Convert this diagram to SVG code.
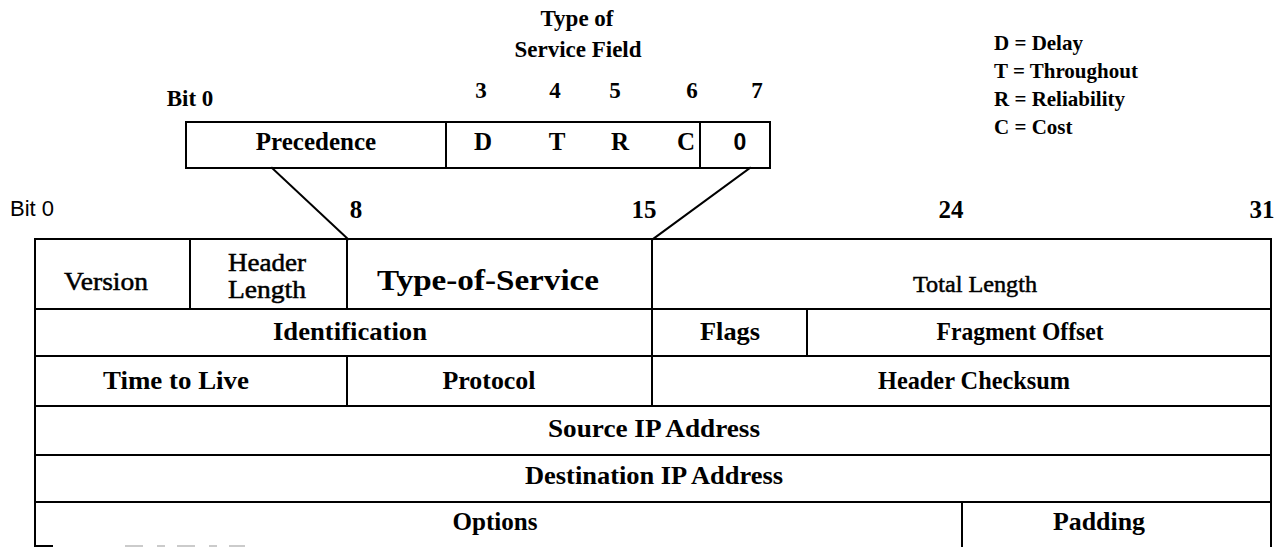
<svg xmlns="http://www.w3.org/2000/svg" width="1279" height="547" viewBox="0 0 1279 547">
  <style>
    .ln { stroke: #000; stroke-width: 2; fill: none; stroke-linecap: square; }
    .t { font-family: "Liberation Serif", "Times New Roman", serif; font-size: 25px; fill: #000; text-anchor: middle; }
    .b { font-weight: bold; }
    .r { stroke: #000; stroke-width: 0.5; }
    .s { font-family: "Liberation Sans", Arial, sans-serif; }
    .lg { font-family: "Liberation Serif", "Times New Roman", serif; font-size: 21px; font-weight: bold; fill: #000; }
  </style>
  <rect width="1279" height="547" fill="#fff"/>

  <!-- Type of Service field detail -->
  <g id="tos-title">
    <text class="t b" x="577" y="26" style="font-size:23px">Type of</text>
    <text class="t b" x="578" y="57" style="font-size:23px">Service Field</text>
  </g>
  <g id="tos-bits">
    <text class="t b" x="190" y="106" style="font-size:23px">Bit 0</text>
    <text class="t b" x="481" y="98" style="font-size:23px">3</text>
    <text class="t b" x="555" y="98" style="font-size:23px">4</text>
    <text class="t b" x="615" y="98" style="font-size:23px">5</text>
    <text class="t b" x="692" y="98" style="font-size:23px">6</text>
    <text class="t b" x="757" y="98" style="font-size:23px">7</text>
  </g>
  <g id="tos-box">
    <rect class="ln" x="186" y="122" width="584" height="46"/>
    <line class="ln" x1="446" y1="122" x2="446" y2="168"/>
    <line class="ln" x1="700" y1="122" x2="700" y2="168"/>
    <text class="t b" x="316" y="150">Precedence</text>
    <text class="t b" x="483" y="150">D</text>
    <text class="t b" x="557" y="150">T</text>
    <text class="t b" x="620" y="150">R</text>
    <text class="t b" x="686" y="150">C</text>
    <text class="t b s" x="740" y="150" style="font-size:23px">0</text>
  </g>
  <g id="legend">
    <text class="lg" x="994" y="50">D = Delay</text>
    <text class="lg" x="994" y="78">T = Throughout</text>
    <text class="lg" x="994" y="106">R = Reliability</text>
    <text class="lg" x="994" y="134">C = Cost</text>
  </g>

  <!-- bit positions of the header word -->
  <g id="word-bits">
    <text class="t s" x="32" y="216" style="font-size:22px">Bit 0</text>
    <text class="t b" x="356" y="218">8</text>
    <text class="t b" x="644" y="218">15</text>
    <text class="t b" x="951" y="218">24</text>
    <text class="t b" x="1262" y="218">31</text>
  </g>

  <g id="connectors">
    <line class="ln" x1="272" y1="168" x2="348" y2="239"/>
    <line class="ln" x1="750" y1="168" x2="653" y2="239"/>
  </g>

  <!-- IP header grid -->
  <g id="header-frame">
    <polyline class="ln" points="35,547 35,239 1271,239 1271,547"/>
    <line class="ln" x1="35" y1="309" x2="1271" y2="309"/>
    <line class="ln" x1="35" y1="356" x2="1271" y2="356"/>
    <line class="ln" x1="35" y1="406" x2="1271" y2="406"/>
    <line class="ln" x1="35" y1="455" x2="1271" y2="455"/>
    <line class="ln" x1="35" y1="502" x2="1271" y2="502"/>
    <line class="ln" x1="35" y1="546" x2="52" y2="546"/>
    <line x1="125" y1="546" x2="245" y2="546" stroke="#bbb" stroke-width="1.5" stroke-dasharray="18 14 8 12"/>
  </g>

  <g id="version">
    <line class="ln" x1="190" y1="239" x2="190" y2="309"/>
    <text class="t r" x="106" y="290" textLength="84" lengthAdjust="spacingAndGlyphs">Version</text>
  </g>
  <g id="header-length">
    <line class="ln" x1="347" y1="239" x2="347" y2="309"/>
    <text class="t r" x="267" y="271" textLength="78" lengthAdjust="spacingAndGlyphs">Header</text>
    <text class="t r" x="267" y="298" textLength="78" lengthAdjust="spacingAndGlyphs">Length</text>
  </g>
  <g id="type-of-service">
    <line class="ln" x1="652" y1="239" x2="652" y2="309"/>
    <text class="t b" x="488" y="290" style="font-size:30px" textLength="222" lengthAdjust="spacingAndGlyphs">Type-of-Service</text>
  </g>
  <g id="total-length">
    <text class="t r" x="975" y="292" style="font-size:24px" textLength="124" lengthAdjust="spacingAndGlyphs">Total  Length</text>
  </g>
  <g id="identification">
    <text class="t b" x="350" y="340" textLength="154" lengthAdjust="spacingAndGlyphs">Identification</text>
  </g>
  <g id="flags">
    <line class="ln" x1="652" y1="309" x2="652" y2="356"/>
    <line class="ln" x1="807" y1="309" x2="807" y2="356"/>
    <text class="t b" x="730" y="340" textLength="60" lengthAdjust="spacingAndGlyphs">Flags</text>
  </g>
  <g id="fragment-offset">
    <text class="t b" x="1020" y="340" textLength="167" lengthAdjust="spacingAndGlyphs">Fragment Offset</text>
  </g>
  <g id="time-to-live">
    <line class="ln" x1="347" y1="356" x2="347" y2="406"/>
    <text class="t b" x="176" y="389" textLength="146" lengthAdjust="spacingAndGlyphs">Time to Live</text>
  </g>
  <g id="protocol">
    <line class="ln" x1="652" y1="356" x2="652" y2="406"/>
    <text class="t b" x="489" y="389" textLength="93" lengthAdjust="spacingAndGlyphs">Protocol</text>
  </g>
  <g id="header-checksum">
    <text class="t b" x="974" y="389" textLength="192" lengthAdjust="spacingAndGlyphs">Header Checksum</text>
  </g>
  <g id="source-ip">
    <text class="t b" x="654" y="437" textLength="212" lengthAdjust="spacingAndGlyphs">Source IP Address</text>
  </g>
  <g id="destination-ip">
    <text class="t b" x="654" y="484" textLength="258" lengthAdjust="spacingAndGlyphs">Destination IP Address</text>
  </g>
  <g id="options">
    <line class="ln" x1="962" y1="502" x2="962" y2="547"/>
    <text class="t b" x="495" y="530" textLength="85" lengthAdjust="spacingAndGlyphs">Options</text>
  </g>
  <g id="padding">
    <text class="t b" x="1099" y="530" textLength="92" lengthAdjust="spacingAndGlyphs">Padding</text>
  </g>
</svg>
